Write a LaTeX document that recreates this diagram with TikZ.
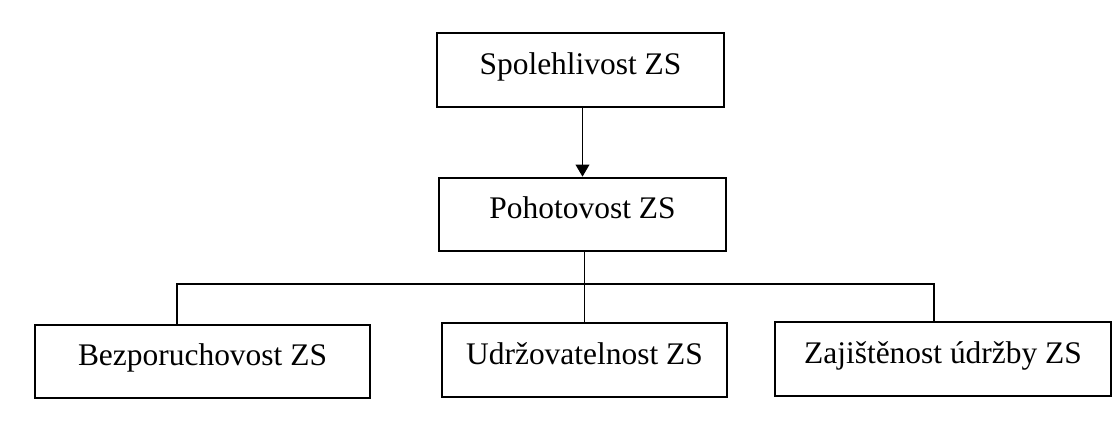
\documentclass[tikz,border=0pt]{standalone}
\usepackage{fontspec}
\setmainfont{Liberation Serif}
\usepackage{tikz}
\usetikzlibrary{arrows.meta,positioning,calc}

\begin{document}
\begin{tikzpicture}[
  block/.style={draw=black, line width=1.2pt, minimum height=1.47cm, inner sep=0pt, text height=0.7em, text depth=0.2em, font=\fontsize{17.9}{21}\selectfont},
  link/.style={draw=black, line width=1.1pt},
  tip/.style={-{Triangle[length=0.24cm,width=0.27cm]}}
]
  \useasboundingbox (0,0) rectangle (22.3,8.58);
  \node[block, minimum width=5.74cm] (spol) at (11.61,7.18) {Spolehlivost ZS};
  \node[block, minimum width=5.74cm] (poh) at (11.65,4.29) {Pohotovost ZS};
  \node[block, minimum width=6.70cm] (bez) at (4.05,1.35) {Bezporuchovost ZS};
  \node[block, minimum width=5.70cm] (udrz) at (11.69,1.38) {Udržovatelnost ZS};
  \node[block, minimum width=6.72cm] (zaj) at (18.86,1.40) {Zajištěnost údržby ZS};
  \coordinate (busL) at (3.54,2.90);
  \coordinate (busR) at (18.68,2.90);
  \draw[link, tip] (spol.south -| poh.north) -- (poh.north);
  \draw[link] (poh.south -| udrz.north) -- (udrz.north);
  \draw[link] (bez.north -| busL) -- (busL) -- (busR) -- (zaj.north -| busR);
\end{tikzpicture}
\end{document}
